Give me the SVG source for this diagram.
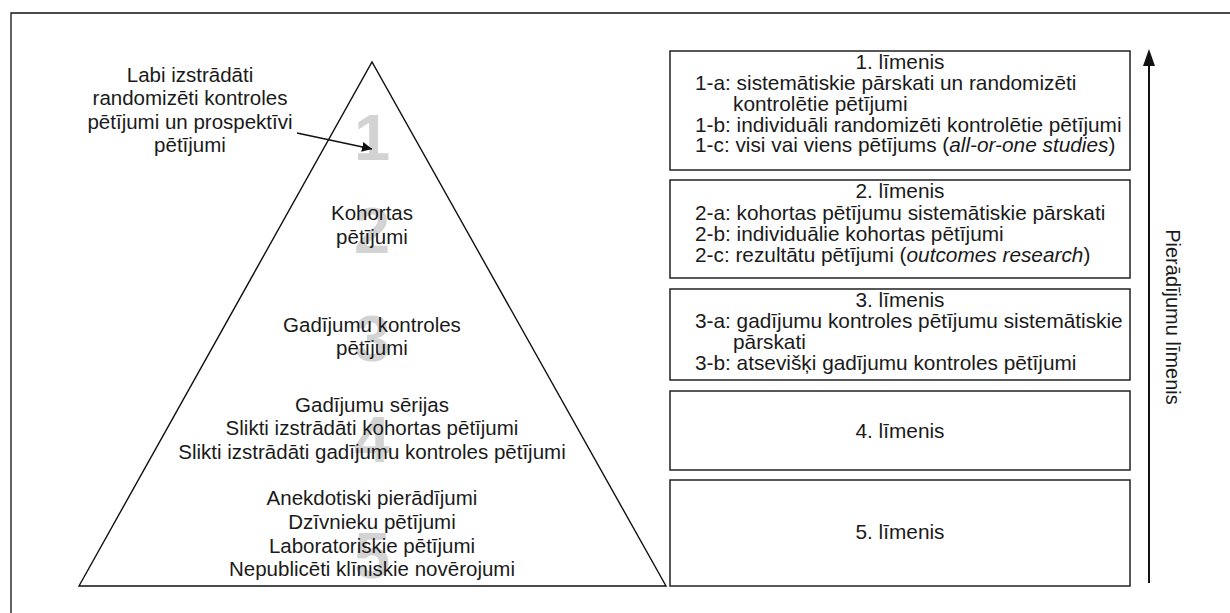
<svg xmlns="http://www.w3.org/2000/svg" width="1230" height="613" viewBox="0 0 1230 613">
<defs>
<style>
.t{font-family:"Liberation Sans",Arial,sans-serif;font-size:20.5px;fill:#1a1a1a}
.b{font-size:20.8px}
.c{text-anchor:middle}
.num{font-family:"Liberation Sans",Arial,sans-serif;font-weight:bold;font-size:65px;fill:#d3d3d3;text-anchor:middle}
.box{fill:#fff;stroke:#222;stroke-width:1.5}
.ln{fill:none;stroke:#111;stroke-width:1.4}
</style>
<marker id="ah" viewBox="0 0 10 10" refX="10" refY="5" markerWidth="10" markerHeight="10" markerUnits="userSpaceOnUse" orient="auto">
<path d="M0,0 L10,5 L0,10 z" fill="#111"/>
</marker>
</defs>
<rect width="1230" height="613" fill="#fff"/>
<path d="M11,613 V13 H1230" fill="none" stroke="#111" stroke-width="1.3"/>

<g id="pyramid">
<polygon points="79,586 372,62 666,586" fill="#fff" stroke="#111" stroke-width="1.4"/>
<text class="num" x="372" y="160">1</text>
<text class="num" x="372" y="253">2</text>
<text class="num" x="372" y="361">3</text>
<text class="num" x="372" y="462">4</text>
<text class="num" x="372" y="578">5</text>
</g>

<g id="level2-pyr">
<text class="t c" x="372" y="220">Kohortas</text>
<text class="t c" x="372" y="244">pētījumi</text>
</g>
<g id="level3-pyr">
<text class="t c" x="372" y="332">Gadījumu kontroles</text>
<text class="t c" x="372" y="355">pētījumi</text>
</g>
<g id="level4-pyr">
<text class="t c" x="372" y="412">Gadījumu sērijas</text>
<text class="t c" x="372" y="435">Slikti izstrādāti kohortas pētījumi</text>
<text class="t c" x="372" y="459">Slikti izstrādāti gadījumu kontroles pētījumi</text>
</g>
<g id="level5-pyr">
<text class="t c" x="372" y="505">Anekdotiski pierādījumi</text>
<text class="t c" x="372" y="529">Dzīvnieku pētījumi</text>
<text class="t c" x="372" y="553">Laboratoriskie pētījumi</text>
<text class="t c" x="372" y="576">Nepublicēti klīniskie novērojumi</text>
</g>

<g id="label1">
<text class="t c" x="190" y="82">Labi izstrādāti</text>
<text class="t c" x="190" y="105">randomizēti kontroles</text>
<text class="t c" x="190" y="129">pētījumi un prospektīvi</text>
<text class="t c" x="190" y="152">pētījumi</text>
</g>

<g id="connectors">
<line class="ln" x1="297" y1="133" x2="372" y2="149" marker-end="url(#ah)"/>
<line x1="1149" y1="583" x2="1149" y2="62" stroke="#111" stroke-width="2"/>
<polygon points="1149,49 1143,66 1155,66" fill="#111"/>
</g>

<g id="box1">
<rect class="box" x="670" y="51" width="460" height="119"/>
<text class="t b c" x="900" y="69">1. līmenis</text>
<text class="t b" x="695" y="90">1-a: sistemātiskie pārskati un randomizēti</text>
<text class="t b" x="733" y="111">kontrolētie pētījumi</text>
<text class="t b" x="695" y="132">1-b: individuāli randomizēti kontrolētie pētījumi</text>
<text class="t b" x="695" y="152">1-c: visi vai viens pētījums (<tspan font-style="italic">all-or-one studies</tspan>)</text>
</g>
<g id="box2">
<rect class="box" x="670" y="180" width="460" height="98"/>
<text class="t b c" x="900" y="198">2. līmenis</text>
<text class="t b" x="695" y="219.5">2-a: kohortas pētījumu sistemātiskie pārskati</text>
<text class="t b" x="695" y="240.5">2-b: individuālie kohortas pētījumi</text>
<text class="t b" x="695" y="261.5">2-c: rezultātu pētījumi (<tspan font-style="italic">outcomes research</tspan>)</text>
</g>
<g id="box3">
<rect class="box" x="670" y="289" width="460" height="91"/>
<text class="t b c" x="900" y="307">3. līmenis</text>
<text class="t b" x="695" y="328">3-a: gadījumu kontroles pētījumu sistemātiskie</text>
<text class="t b" x="733" y="349">pārskati</text>
<text class="t b" x="695" y="370">3-b: atsevišķi gadījumu kontroles pētījumi</text>
</g>
<g id="box4">
<rect class="box" x="670" y="391" width="460" height="79"/>
<text class="t b c" x="900" y="438">4. līmenis</text>
</g>
<g id="box5">
<rect class="box" x="670" y="480" width="460" height="106"/>
<text class="t b c" x="900" y="539">5. līmenis</text>
</g>

<g id="axis-label">
<text class="t c" transform="translate(1166,317) rotate(90)" x="0" y="0" style="font-size:20px">Pierādījumu līmenis</text>
</g>
</svg>
